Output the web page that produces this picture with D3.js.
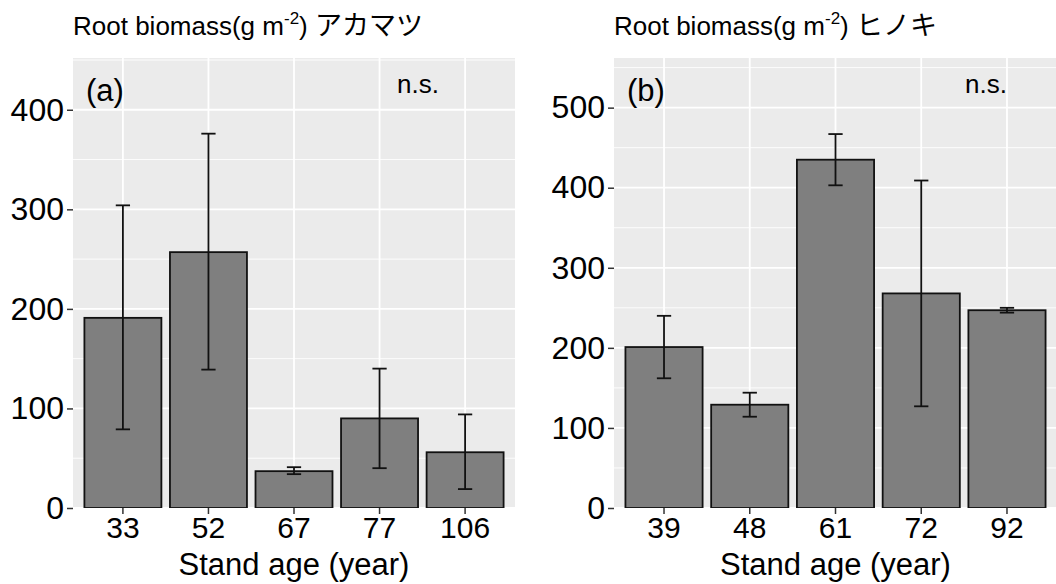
<!DOCTYPE html>
<html>
<head>
<meta charset="utf-8">
<script src="https://cdn.jsdelivr.net/npm/d3@7"></script>
<style>
  body { margin: 0; background: #fff; }
  text { font-family: "Liberation Sans", Arial, "Noto Sans CJK JP", sans-serif; }
</style>
</head>
<body>
<div id="chart"></div>
<script>
// data
var agesA = ["33", "52", "67", "77", "106"];
var meanA = [191, 257, 37, 90, 56];
var upperA = [304, 376, 41, 140, 94];
var lowerA = [79, 139, 34, 40, 19];

var agesB = ["39", "48", "61", "72", "92"];
var meanB = [201, 129, 435, 268, 247];
var upperB = [240, 144, 467, 409, 250];
var lowerB = [162, 114, 403, 127, 244];

var ticksA = [0, 100, 200, 300, 400];
var ticksB = [0, 100, 200, 300, 400, 500];

var W = 1056, H = 584;
var svg = d3.select("#chart").append("svg")
    .attr("width", W).attr("height", H);

var panelTop = 58, panelBottom = 508;

function panel(opt) {
    var g = svg.append("g");
    var x0 = opt.left, x1 = opt.left + opt.width;

    // discrete x scale with ggplot style 0.6 expansion
    var step = opt.width / (opt.cats.length + 1.2);
    var x = d3.scaleBand()
        .domain(opt.cats)
        .range([x0 + 0.6 * step - step / 2, x1 - 0.6 * step + step / 2])
        .paddingInner(0.1).paddingOuter(0.05);
    var y = d3.scaleLinear().domain([0, opt.ymax]).range([panelBottom, panelTop]);

    var clip = "clip" + opt.name;
    svg.append("clipPath").attr("id", clip).append("rect")
        .attr("x", x0).attr("y", panelTop).attr("width", opt.width).attr("height", panelBottom - panelTop);

    var pg = g.append("g").attr("clip-path", "url(#" + clip + ")");
    pg.append("rect")
        .attr("x", x0).attr("y", panelTop)
        .attr("width", opt.width).attr("height", panelBottom - panelTop)
        .attr("fill", "#ebebeb");

    // minor grid
    var minor = d3.range(50, opt.ymax, 100);
    pg.selectAll(".minor").data(minor).enter().append("line")
        .attr("x1", x0).attr("x2", x1)
        .attr("y1", d => y(d)).attr("y2", d => y(d))
        .attr("stroke", "#fff").attr("stroke-width", 0.9);
    // major grid
    pg.selectAll(".majorh").data(opt.ticks).enter().append("line")
        .attr("x1", x0).attr("x2", x1)
        .attr("y1", d => y(d)).attr("y2", d => y(d))
        .attr("stroke", "#fff").attr("stroke-width", 1.8);
    pg.selectAll(".majorv").data(opt.cats).enter().append("line")
        .attr("x1", d => x(d) + x.bandwidth() / 2).attr("x2", d => x(d) + x.bandwidth() / 2)
        .attr("y1", panelTop).attr("y2", panelBottom)
        .attr("stroke", "#fff").attr("stroke-width", 1.8);

    // bars
    pg.selectAll(".bar").data(opt.cats).enter().append("rect")
        .attr("x", d => x(d))
        .attr("width", x.bandwidth())
        .attr("y", (d, i) => y(opt.mean[i]))
        .attr("height", (d, i) => y(0) - y(opt.mean[i]))
        .attr("fill", "#7f7f7f")
        .attr("stroke", "#111")
        .attr("stroke-width", 1.8);

    // error bars
    var cap = step * 0.1;
    var eb = pg.selectAll(".err").data(opt.cats).enter().append("g")
        .attr("stroke", "#111").attr("stroke-width", 1.8);
    eb.append("line")
        .attr("x1", d => x(d) + x.bandwidth() / 2).attr("x2", d => x(d) + x.bandwidth() / 2)
        .attr("y1", (d, i) => y(opt.lower[i])).attr("y2", (d, i) => y(opt.upper[i]));
    eb.append("line")
        .attr("x1", d => x(d) + x.bandwidth() / 2 - cap).attr("x2", d => x(d) + x.bandwidth() / 2 + cap)
        .attr("y1", (d, i) => y(opt.upper[i])).attr("y2", (d, i) => y(opt.upper[i]));
    eb.append("line")
        .attr("x1", d => x(d) + x.bandwidth() / 2 - cap).attr("x2", d => x(d) + x.bandwidth() / 2 + cap)
        .attr("y1", (d, i) => y(opt.lower[i])).attr("y2", (d, i) => y(opt.lower[i]));

    // annotations
    g.append("text").attr("x", x0 + 13).attr("y", 101)
        .attr("font-size", 31).attr("fill", "#000").text(opt.label);
    g.append("text").attr("x", opt.nsx).attr("y", 93)
        .attr("font-size", 26).attr("fill", "#000").text("n.s.");

    // y axis
    var ya = g.append("g").attr("transform", "translate(" + x0 + ",0)")
        .call(d3.axisLeft(y).tickValues(opt.ticks).tickSize(6).tickPadding(3).tickFormat(d3.format("d")));
    ya.select(".domain").remove();
    ya.selectAll(".tick line").attr("stroke", "#333").attr("stroke-width", 1.5);
    ya.selectAll(".tick text").attr("font-size", 32).attr("fill", "#000")
        .attr("font-family", "Liberation Sans, Arial, sans-serif");

    // x axis
    var xa = g.append("g").attr("transform", "translate(0," + panelBottom + ")")
        .call(d3.axisBottom(x).tickSize(6).tickPadding(3));
    xa.select(".domain").remove();
    xa.selectAll(".tick line").attr("stroke", "#333").attr("stroke-width", 1.5);
    xa.selectAll(".tick text").attr("font-size", 30).attr("fill", "#000")
        .attr("font-family", "Liberation Sans, Arial, sans-serif");

    g.append("text")
        .attr("x", (x0 + x1) / 2).attr("y", 575)
        .attr("text-anchor", "middle").attr("font-size", 31).attr("fill", "#000")
        .text("Stand age (year)");

    // title
    var t = g.append("text").attr("x", x0).attr("y", 35)
        .attr("font-size", 26).attr("fill", "#000");
    t.append("tspan").text("Root biomass(g m");
    t.append("tspan").attr("font-size", 17).attr("dy", -11).text("-2");
    t.append("tspan").attr("dy", 11).text(")" + opt.gap);
    t.append("tspan").attr("font-family", "Noto Sans CJK JP").attr("font-size", 27).text(opt.species);
}

panel({name: "a", left: 73, width: 442, cats: agesA, mean: meanA, upper: upperA, lower: lowerA,
       ymax: 452, ticks: ticksA, label: "(a)", nsx: 397, species: "アカマツ", gap: " "});
panel({name: "b", left: 614, width: 443, cats: agesB, mean: meanB, upper: upperB, lower: lowerB,
       ymax: 562, ticks: ticksB, label: "(b)", nsx: 965, species: "ヒノキ", gap: "  "});
</script>
</body>
</html>
